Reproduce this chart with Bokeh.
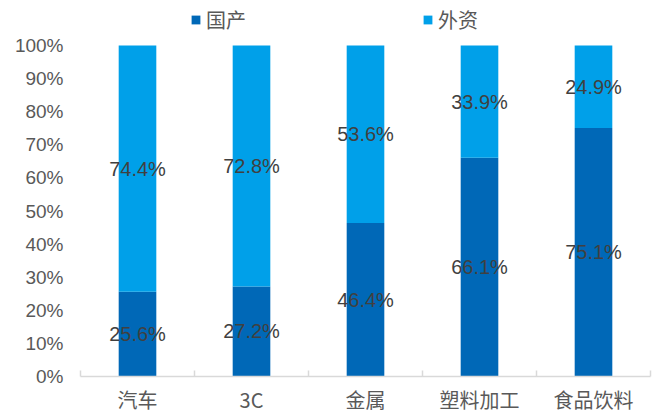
from bokeh.plotting import figure
from bokeh.models import (ColumnDataSource, FixedTicker, Legend, LegendItem, Range1d)
from bokeh.core.properties import value
from bokeh.embed import file_html
from bokeh.resources import INLINE

categories = ["汽车", "3C", "金属", "塑料加工", "食品饮料"]
domestic = [25.6, 27.2, 46.4, 66.1, 75.1]
foreign = [74.4, 72.8, 53.6, 33.9, 24.9]
series_names = ["国产", "外资"]
y_ticks = [0, 10, 20, 30, 40, 50, 60, 70, 80, 90, 100]
y_tick_labels = ["0%", "10%", "20%", "30%", "40%", "50%", "60%", "70%", "80%", "90%", "100%"]

colors = ["#0068B7", "#00A0E9"]
n = len(categories)
xc = [i + 0.5 for i in range(n)]

src = ColumnDataSource(dict(
    x=xc, cat=categories, d=domestic, f=foreign,
    d_mid=[v / 2 for v in domestic],
    f_mid=[d + f / 2 for d, f in zip(domestic, foreign)],
    d_lab=["%.1f%%" % v for v in domestic],
    f_lab=["%.1f%%" % v for v in foreign],
))

# frame reaches the top of the canvas; headroom above 100% holds the legend
p = figure(width=659, height=416, x_range=Range1d(0, n), y_range=Range1d(0, 100 * 376 / 331),
           output_backend="svg", toolbar_location=None,
           min_border_left=80, min_border_right=9, min_border_top=0, min_border_bottom=40)
p.outline_line_color = None
p.grid.visible = False

rs = p.vbar_stack(["d", "f"], x="x", width=0.33, source=src, color=colors, line_color=None)

lab_font = value("Liberation Sans")
p.text(x="x", y="d_mid", text="d_lab", source=src, text_align="center", text_baseline="middle",
       text_font=lab_font, text_font_size="20px", text_color="#404040")
p.text(x="x", y="f_mid", text="f_lab", source=src, text_align="center", text_baseline="middle",
       text_font=lab_font, text_font_size="20px", text_color="#404040")

# y axis
ya = p.yaxis[0]
ya.ticker = FixedTicker(ticks=y_ticks)
ya.major_label_overrides = {t: l for t, l in zip(y_ticks, y_tick_labels)}
ya.axis_line_color = None
ya.major_tick_line_color = None
ya.minor_tick_line_color = None
ya.major_tick_in = 0
ya.major_tick_out = 0
ya.major_label_standoff = 17
ya.major_label_text_font = "Liberation Sans"
ya.major_label_text_font_size = "19px"
ya.major_label_text_color = "#595959"

# x axis: labels at centers, tick marks at category boundaries
xa = p.xaxis[0]
xa.ticker = FixedTicker(ticks=xc, minor_ticks=list(range(n + 1)))
xa.major_label_overrides = {x: c for x, c in zip(xc, categories)}
xa.axis_line_color = "#D9D9D9"
xa.axis_line_width = 1.5
xa.major_tick_line_color = None
xa.minor_tick_line_color = "#D9D9D9"
xa.minor_tick_line_width = 1.5
xa.minor_tick_in = 6
xa.minor_tick_out = 0
xa.major_tick_in = 0
xa.major_tick_out = 0
xa.major_label_standoff = 8
xa.major_label_text_font = "Noto Sans CJK SC"
xa.major_label_text_font_size = "20px"
xa.major_label_text_color = "#595959"

legend = Legend(items=[LegendItem(label=series_names[0], renderers=[rs[0]]),
                       LegendItem(label=series_names[1], renderers=[rs[1]])],
                location=(110, 342), orientation="horizontal",
                glyph_width=11, glyph_height=11, label_standoff=5, spacing=176,
                padding=0, margin=0, border_line_color=None, background_fill_alpha=0,
                label_text_font="Noto Sans CJK SC", label_text_font_size="20px",
                label_text_color="#595959")
p.add_layout(legend, "center")

open("out.html", "w").write(file_html(p, INLINE))
